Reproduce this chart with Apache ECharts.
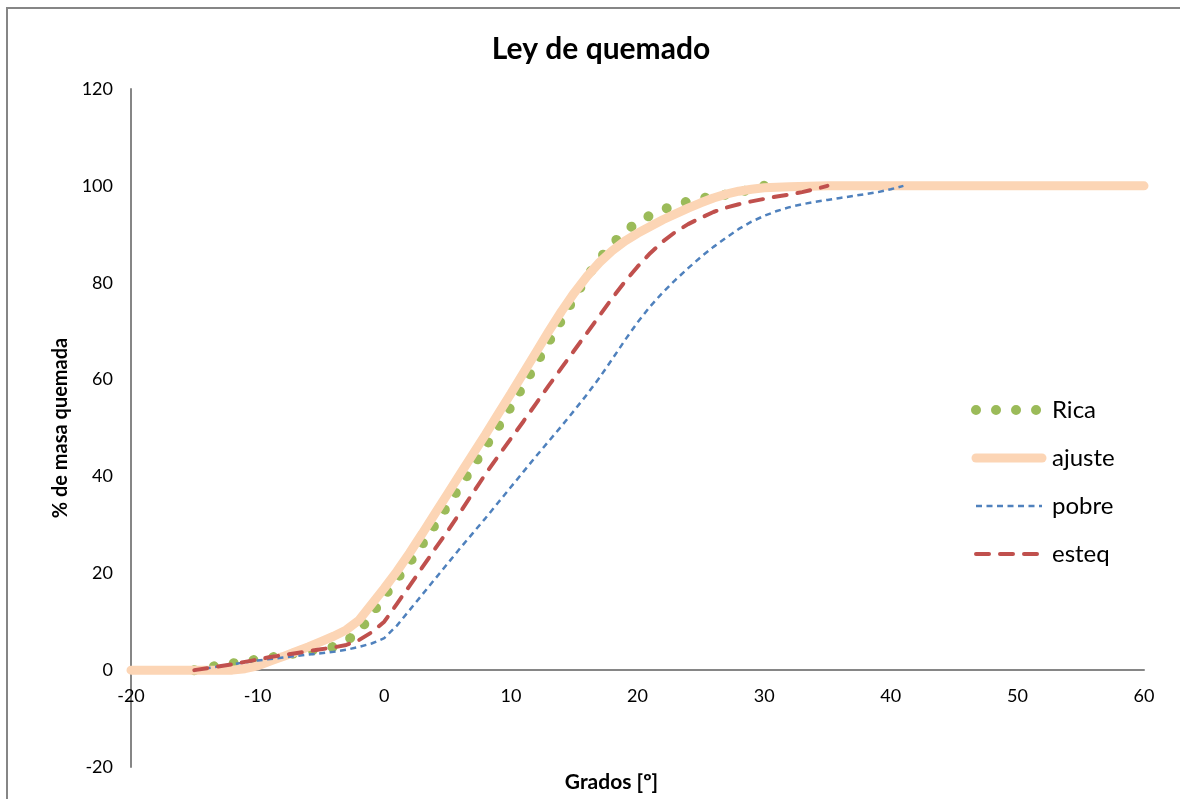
<!DOCTYPE html>
<html>
<head>
<meta charset="utf-8">
<script src="https://cdn.jsdelivr.net/npm/echarts@6/dist/echarts.min.js"></script>
<style>
html,body{margin:0;padding:0;background:#fff;}
#chart{width:1180px;height:799px;}
</style>
</head>
<body>
<div id="chart"></div>
<script>
// ---- data ----
var ricaX = [-15,-14,-13,-12,-11,-10,-9,-8,-7,-6,-5,-4,-3,-2,-1,0,1,2,3,4,5,6,7,8,9,10,11,12,13,14,15,16,17,18,19,20,21,22,23,24,25,26,27,28,29,30];
var ricaY = [0,0.5,1.0,1.4,1.8,2.2,2.6,3.0,3.5,4.0,4.3,4.8,6.0,8.0,11.5,15.2,18.8,22.2,26,30,34,38,42,46.2,50.2,54.4,58.8,63.3,67.8,72.3,76.9,81.2,84.9,88,90.5,92.5,93.9,95.1,96,96.8,97.4,97.8,98.2,98.7,99.3,100];

var ajusteX = [-20,-15,-12,-11,-10,-9,-8,-7,-6,-5,-4,-3,-2,-1,0,1,2,3,4,5,6,7,8,9,10,11,12,13,14,15,16,17,18,19,20,21,22,23,24,25,26,27,28,29,30,32,35,40,50,60];
var ajusteY = [0,0,0,0.3,0.9,1.9,2.8,3.8,4.8,5.9,7.0,8.3,10.3,13.6,16.9,20.4,24.2,28.2,32.3,36.4,40.5,44.6,48.7,52.9,57.1,61.4,65.7,70,74.1,77.9,81.3,84.2,86.6,88.6,90.2,91.6,93,94.2,95.4,96.5,97.5,98.3,98.9,99.3,99.6,99.8,100,100,100,100];

var pobreX = [-15,-14,-13,-12,-11,-10,-9,-8,-7,-6,-5,-4,-3,-2,-1,0,1,2,3,4,5,6,7,8,9,10,11,12,13,14,15,16,17,18,19,20,21,22,23,24,25,26,27,28,29,30,31,32,33,34,35,36,37,38,39,40,41];
var pobreY = [0,0.4,0.8,1.2,1.6,2.0,2.3,2.6,2.9,3.2,3.5,3.8,4.2,4.8,5.5,6.6,9.2,12.4,15.6,18.8,22,25.2,28.3,31.4,34.6,37.8,41,44.2,47.3,50.4,53.6,56.9,60.4,64.2,68.1,71.8,75.1,78,80.6,83,85.3,87.4,89.3,91.1,92.6,93.8,94.8,95.6,96.2,96.7,97.1,97.5,97.9,98.3,98.7,99.3,100];

var esteqX = [-15,-14,-13,-12,-11,-10,-9,-8,-7,-6,-5,-4,-3,-2,-1,0,1,2,3,4,5,6,7,8,9,10,11,12,13,14,15,16,17,18,19,20,21,22,23,24,25,26,27,28,29,30,31,32,33,34,35];
var esteqY = [0,0.4,0.8,1.2,1.7,2.2,2.7,3.1,3.5,3.9,4.3,4.7,5.2,6.2,7.8,10,13.7,17.4,21.2,25,28.7,32.6,36.6,40.5,44.2,47.8,51.4,55.1,58.8,62.4,66,69.6,73.2,76.8,80.2,83.3,86.1,88.5,90.5,92.1,93.4,94.6,95.5,96.2,96.8,97.3,97.8,98.2,98.7,99.3,100];

var xTicks = {min:-20, max:60, interval:10};
var yTicks = {min:-20, max:120, interval:20};

function pairs(xs, ys){ return xs.map(function(x,i){ return [x, ys[i]]; }); }

var FONT = 'Lato, "Open Sans", sans-serif';
var chart = echarts.init(document.getElementById('chart'), null, {renderer:'canvas'});

var GRID_TOP = 89, GRID_BOTTOM = 32, H = 799;
var plotH = H - GRID_TOP - GRID_BOTTOM;
// offset of the x axis line from the grid bottom so it sits at y = 0
var zeroOffset = -plotH * (0 - yTicks.min) / (yTicks.max - yTicks.min);

var styles = {
  Rica:   {color:'#9BBB59', width:10, type:[0.01,20], cap:'round'},
  ajuste: {color:'#FCD5B5', width:9, type:'solid', cap:'round'},
  pobre:  {color:'#4F81BD', width:2.5, type:[6,4.5], cap:'butt'},
  esteq:  {color:'#C0504D', width:4, type:[13,11], cap:'round'}
};

function mkSeries(name, xs, ys){
  return {
    name:name, type:'line', data:pairs(xs, ys), showSymbol:false, symbol:'none',
    smooth:false,
    lineStyle:styles[name],
    itemStyle:{color:styles[name].color}
  };
}

chart.setOption({
  animation:false,
  backgroundColor:'#ffffff',
  title:{
    text:'Ley de quemado', left:596, top:29, textAlign:'center',
    textStyle:{fontFamily:FONT, fontWeight:'bold', fontSize:30, color:'#000'}
  },
  graphic:[{
    type:'rect', shape:{x:7, y:8, width:1300, height:1000},
    style:{fill:null, stroke:'#868686', lineWidth:2}, silent:true, z:-10
  }],
  legend:{
    orient:'vertical', left:966, top:393, itemGap:24, itemWidth:66, itemHeight:22,
    textStyle:{fontFamily:FONT, fontSize:24, color:'#000', padding:[0,0,0,5]},
    data:['Rica','ajuste','pobre','esteq'].map(function(n){
      return {name:n, itemStyle:{color:'rgba(0,0,0,0)', borderWidth:0, borderColor:'rgba(0,0,0,0)'}, lineStyle:styles[n]};
    })
  },
  grid:{left:131, right:36, top:GRID_TOP, bottom:GRID_BOTTOM, containLabel:false, outerBoundsMode:'none'},
  xAxis:{
    type:'value', min:xTicks.min, max:xTicks.max, interval:xTicks.interval,
    position:'bottom', offset:zeroOffset,
    name:'Grados [º]', nameLocation:'middle', nameGap:102,
    nameTextStyle:{fontFamily:FONT, fontWeight:'bold', fontSize:21, color:'#000', padding:[0,52,0,0]},
    axisLine:{show:true, onZero:false, lineStyle:{color:'#868686', width:2}},
    axisTick:{show:false},
    splitLine:{show:false},
    axisLabel:{fontFamily:FONT, fontSize:18, color:'#000', margin:17}
  },
  yAxis:{
    type:'value', min:yTicks.min, max:yTicks.max, interval:yTicks.interval,
    name:'% de masa quemada', nameLocation:'middle', nameGap:59,
    nameTextStyle:{fontFamily:FONT, fontWeight:'bold', fontSize:20, color:'#000'},
    axisLine:{show:true, onZero:false, lineStyle:{color:'#868686', width:2}},
    axisTick:{show:false},
    splitLine:{show:false},
    axisLabel:{fontFamily:FONT, fontSize:18, color:'#000', margin:18}
  },
  series:[
    mkSeries('Rica', ricaX, ricaY),
    mkSeries('ajuste', ajusteX, ajusteY),
    mkSeries('pobre', pobreX, pobreY),
    mkSeries('esteq', esteqX, esteqY)
  ]
});
</script>
</body>
</html>
